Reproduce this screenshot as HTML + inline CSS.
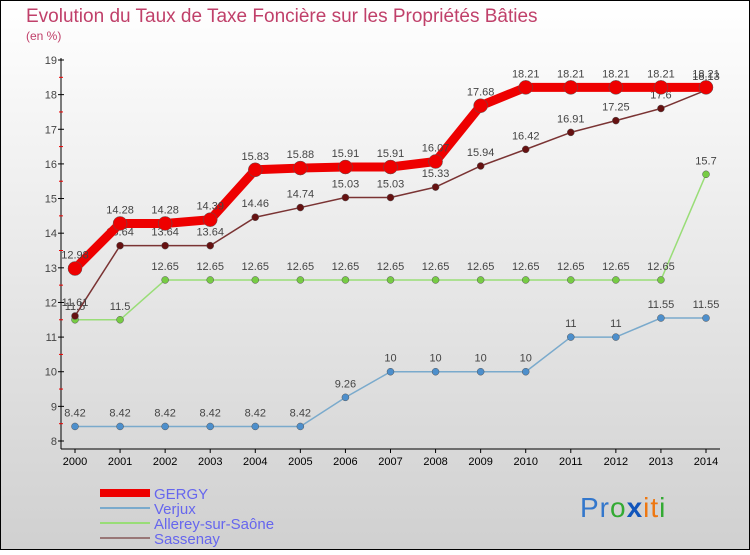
<!DOCTYPE html>
<html><head><meta charset="utf-8"><style>
body{margin:0}
svg text{font-family:"Liberation Sans",sans-serif}
</style></head><body>
<svg id="c" width="750" height="550" xmlns="http://www.w3.org/2000/svg">
<defs><linearGradient id="bg" x1="0" y1="0" x2="0" y2="1"><stop offset="0" stop-color="#ffffff"/><stop offset="1" stop-color="#d0d0d0"/></linearGradient></defs>
<rect x="0.5" y="0.5" width="749" height="549" fill="url(#bg)" stroke="#000"/>
<text x="26" y="22" font-size="19" fill="#c0406a">Evolution du Taux de Taxe Foncière sur les Propriétés Bâties</text>
<text x="26" y="40" font-size="12" fill="#c0406a">(en %)</text>
<g id="axes"></g><g id="series"></g>
<g>
<rect x="100" y="489" width="50" height="8" fill="#ee0000"/>
<text x="154" y="499" font-size="15" fill="#6666ee">GERGY</text>
<rect x="100" y="507" width="50" height="2" fill="#7aaacc"/>
<text x="154" y="514" font-size="15" fill="#6666ee">Verjux</text>
<rect x="100" y="522" width="50" height="2" fill="#99dd77"/>
<text x="154" y="529" font-size="15" fill="#6666ee">Allerey-sur-Saône</text>
<rect x="100" y="537" width="50" height="2" fill="#997777"/>
<text x="154" y="544" font-size="15" fill="#6666ee">Sassenay</text>
</g>
<text x="580" y="517" font-size="28" letter-spacing="1"><tspan fill="#3377cc">Pr</tspan><tspan fill="#33aa33">o</tspan><tspan fill="#1155bb" font-weight="bold">x</tspan><tspan fill="#ee7711">it</tspan><tspan fill="#33aa33">i</tspan></text>
</svg>
<script>
const years=[2000,2001,2002,2003,2004,2005,2006,2007,2008,2009,2010,2011,2012,2013,2014];
const yTicks=[8,9,10,11,12,13,14,15,16,17,18,19];
const gergy=[12.98,14.28,14.28,14.39,15.83,15.88,15.91,15.91,16.07,17.68,18.21,18.21,18.21,18.21,18.21];
const verjux=[8.42,8.42,8.42,8.42,8.42,8.42,9.26,10,10,10,10,11,11,11.55,11.55];
const allerey=[11.5,11.5,12.65,12.65,12.65,12.65,12.65,12.65,12.65,12.65,12.65,12.65,12.65,12.65,15.7];
const sassenay=[11.61,13.64,13.64,13.64,14.46,14.74,15.03,15.03,15.33,15.94,16.42,16.91,17.25,17.6,18.13];
const NS="http://www.w3.org/2000/svg";
const X=i=>75+i*(706-75)/14;
const Y=v=>441-(v-8)*(381/11);
function mk(t,a,p){const e=document.createElementNS(NS,t);for(const k in a)e.setAttribute(k,a[k]);p.appendChild(e);return e;}
const ax=document.getElementById('axes');
const yl=mk('line',{x1:61,y1:58,x2:61,y2:449,stroke:'#000'},ax);


const xl=mk('line',{x1:61,y1:449,x2:720,y2:449,stroke:'#000'},ax);


yTicks.forEach(v=>{
 mk('line',{x1:58,x2:64,y1:Y(v),y2:Y(v),stroke:'#000'},ax);
 if(v<19) mk('line',{x1:59,x2:63,y1:Y(v+0.5),y2:Y(v+0.5),stroke:'#e00'},ax);
 const t=mk('text',{x:57,y:Y(v)+4,'font-size':11,'text-anchor':'end',fill:'#444'},ax);t.textContent=v;
 
 
});
years.forEach((y,i)=>{
 mk('line',{x1:X(i),x2:X(i),y1:449,y2:453,stroke:'#000'},ax);
 const t=mk('text',{x:X(i),y:465,'font-size':11,'text-anchor':'middle',fill:'#000'},ax);t.textContent=y;
 
 
});
const sg=document.getElementById('series');
function series(name,vals,col,w,r,dot){
 const g=mk('g',{},sg);
 
 
 mk('polyline',{points:vals.map((v,i)=>X(i)+','+Y(v)).join(' '),fill:'none',stroke:col,'stroke-width':w,'stroke-linejoin':'round'},g);
 vals.forEach((v,i)=>{
  const c=mk('circle',{cx:X(i),cy:Y(v),r:r,fill:dot,stroke:'#555','stroke-width':0.5},g);
  
  
  const t=mk('text',{x:X(i),y:Y(v)-10,'font-size':11,'text-anchor':'middle',fill:'#444'},g);t.textContent=v;
 });
}
series('verjux',verjux,'#7aaacc',1.5,3.5,'#4d8fcc');
series('allerey',allerey,'#99dd77',1.5,3.5,'#77cc44');
series('sassenay',sassenay,'#7a3333',1.5,3.5,'#661111');
series('gergy',gergy,'#ee0000',9,7,'#ee0000');
</script>
</body></html>
